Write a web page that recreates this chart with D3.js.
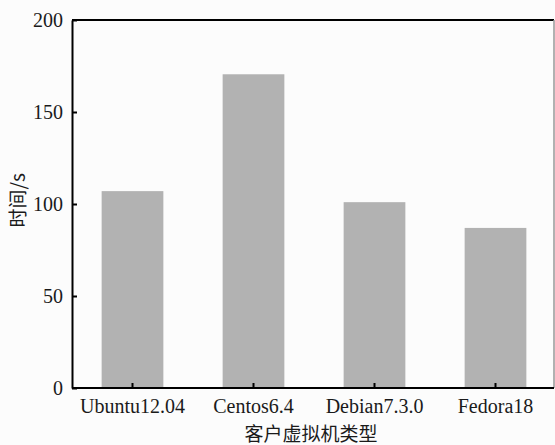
<!DOCTYPE html>
<html><head><meta charset="utf-8">
<script src="https://cdn.jsdelivr.net/npm/d3@7"></script>
<style>body{margin:0;background:#fcfcfc;}svg{display:block;}
.tk{font-family:"Liberation Serif","DejaVu Serif",serif;}</style>
</head><body>
<script>
const categories = ["Ubuntu12.04", "Centos6.4", "Debian7.3.0", "Fedora18"];
const values = [107, 170.5, 101, 87];
const yTicks = [0, 50, 100, 150, 200];
const xTitle = "客户虚拟机类型";
const yTitle = "时间/s";

const W = 555, H = 445;
const m = {left: 72, right: 0, top: 20, bottom: 57};
const svg = d3.select("body").append("svg").attr("width", W).attr("height", H);
svg.append("rect").attr("width", W).attr("height", H).attr("fill", "#fcfcfc");

const x = d3.scaleBand().domain(categories).range([m.left, 556]).paddingInner(0.49).paddingOuter(0.245);
const y = d3.scaleLinear().domain([0, 200]).range([H - m.bottom, m.top]);

svg.selectAll("rect.bar").data(values).enter().append("rect")
  .attr("class", "bar")
  .attr("x", (d, i) => x(categories[i]))
  .attr("width", x.bandwidth())
  .attr("y", d => y(d))
  .attr("height", d => y(0) - y(d))
  .attr("fill", "#b2b2b2");

svg.append("line").attr("x1", m.left).attr("x2", 554).attr("y1", y(200)).attr("y2", y(200)).attr("stroke", "#000").attr("stroke-width", 2);
svg.append("line").attr("x1", 554).attr("x2", 554).attr("y1", y(200)).attr("y2", y(0)).attr("stroke", "#999").attr("stroke-width", 1.5);

const yAxis = svg.append("g").attr("transform", `translate(${m.left},0)`)
  .call(d3.axisLeft(y).tickValues(yTicks).tickSizeInner(-5).tickSizeOuter(0).tickPadding(9));
yAxis.attr("font-family", null);
yAxis.select(".domain").attr("stroke-width", 2);
yAxis.selectAll(".tick line").attr("stroke-width", 2);
yAxis.selectAll("text").attr("class", "tk").attr("font-size", 20).attr("fill", "#1a1a1a");

const xAxis = svg.append("g").attr("transform", `translate(0,${y(0)})`)
  .call(d3.axisBottom(x).tickSizeInner(-5).tickSizeOuter(0).tickPadding(11));
xAxis.attr("font-family", null);
xAxis.select(".domain").attr("stroke-width", 2).attr("d", `M${m.left},0H554`);
xAxis.selectAll(".tick line").attr("stroke-width", 2);
xAxis.selectAll("text").attr("class", "tk").attr("font-size", 20).attr("fill", "#1a1a1a");

svg.append("text").attr("x", 311).attr("y", 441).attr("text-anchor", "middle")
  .style("font-family", "'Noto Sans CJK SC',sans-serif").attr("font-size", 19).attr("fill", "#1a1a1a").text(xTitle);
svg.append("text").attr("transform", `translate(25,${y(102)}) rotate(-90)`).attr("text-anchor", "middle")
  .style("font-family", "'Noto Sans CJK SC',sans-serif").attr("font-size", 19).attr("fill", "#1a1a1a").text(yTitle);
</script>
</body></html>
